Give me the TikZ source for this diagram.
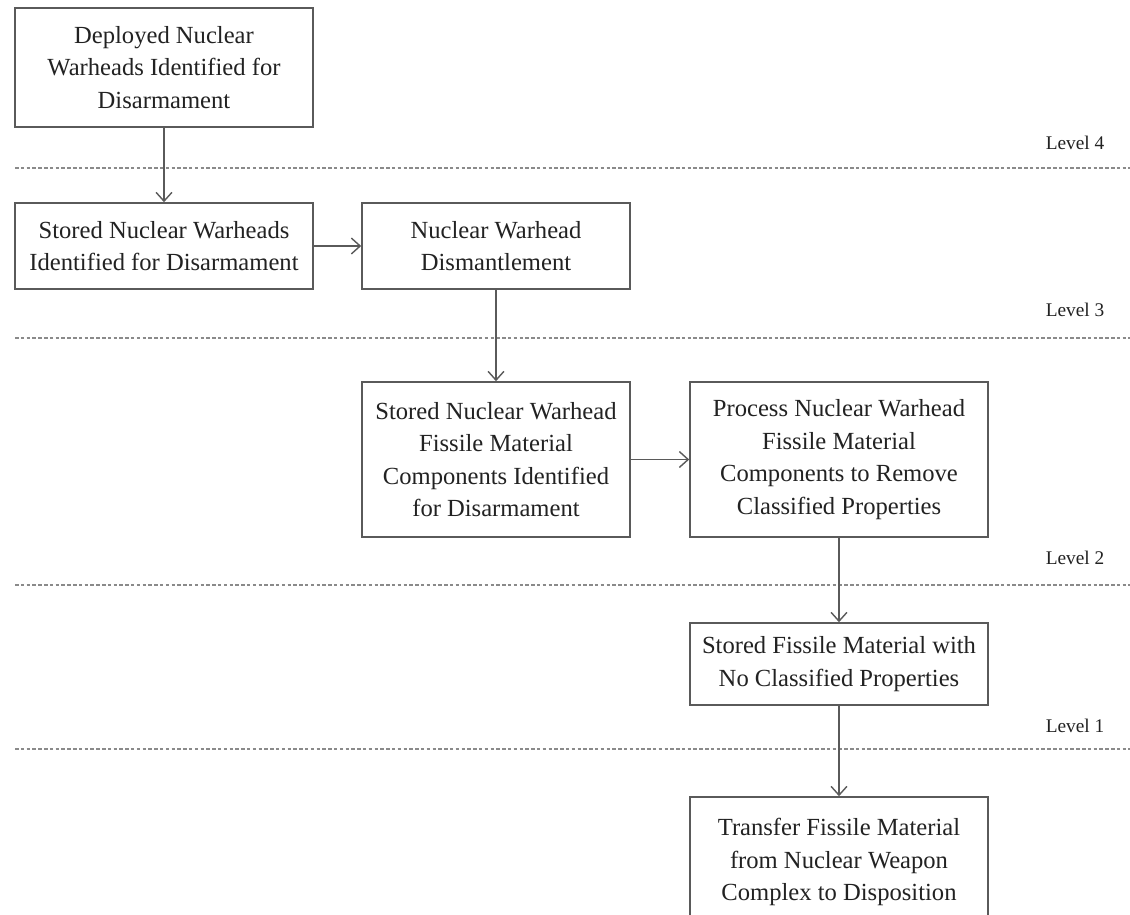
\documentclass[tikz,border=0pt]{standalone}
\usepackage{fontspec}
\setmainfont{Liberation Serif}
\usepackage{tikz}
\usetikzlibrary{arrows.meta,positioning,calc}
\definecolor{vline}{HTML}{5A5A5A}
\definecolor{vtext}{HTML}{222222}
\definecolor{vdot}{HTML}{8A8A8A}
\tikzset{
  box/.style={draw=vline,fill=white,line width=0.9pt,align=center,text=vtext,font=\fontsize{14}{18.5}\selectfont,inner sep=3pt},
  arr/.style={-{Straight Barb[length=5pt,width=9pt]},line width=0.8pt,draw=vline},
  lvl/.style={draw=vdot,line width=0.8pt,dash pattern=on 2pt off 1.3pt},
  lbl/.style={font=\fontsize{11}{13}\selectfont,text=vtext},
}
\begin{document}
\begin{tikzpicture}
\clip (0,0) rectangle (22.6,-18.3);
\fill[white] (0,0) rectangle (22.6,-18.3);
% level separators
\draw[lvl] (0.3,-3.36) -- (22.6,-3.36);
\draw[lvl] (0.3,-6.76) -- (22.6,-6.76);
\draw[lvl] (0.3,-11.70) -- (22.6,-11.70);
\draw[lvl] (0.3,-14.98) -- (22.6,-14.98);
\node[lbl] (l4) at (21.5,-2.86) {Level 4};
\node[lbl] (l3) at (21.5,-6.20) {Level 3};
\node[lbl] (l2) at (21.5,-11.16) {Level 2};
\node[lbl] (l1) at (21.5,-14.52) {Level 1};
% boxes
\node[box,minimum width=5.96cm,minimum height=2.38cm] (deployed) at (3.28,-1.35)
  {Deployed Nuclear\\Warheads Identified for\\Disarmament};
\node[box,minimum width=5.96cm,minimum height=1.72cm] (stored) at (3.28,-4.92)
  {Stored Nuclear Warheads\\Identified for Disarmament};
\node[box,minimum width=5.36cm,minimum height=1.72cm] (dismantle) at (9.92,-4.92)
  {Nuclear Warhead\\Dismantlement};
\node[box,minimum width=5.36cm,minimum height=3.10cm] (components) at (9.92,-9.19)
  {Stored Nuclear Warhead\\Fissile Material\\Components Identified\\for Disarmament};
\node[box,minimum width=5.96cm,minimum height=3.10cm] (process) at (16.78,-9.19)
  {Process Nuclear Warhead\\Fissile Material\\Components to Remove\\Classified Properties};
\node[box,minimum width=5.96cm,minimum height=1.64cm] (fissile) at (16.78,-13.28)
  {Stored Fissile Material with\\No Classified Properties};
% runs off the bottom edge
\node[box,minimum width=5.96cm,minimum height=2.6cm] (transfer) at (16.78,-17.24)
  {Transfer Fissile Material\\from Nuclear Weapon\\Complex to Disposition};
% flow
\draw[arr] (deployed) -- (stored);
\draw[arr] (stored) -- (dismantle);
\draw[arr] (dismantle) -- (components);
\draw[arr] (components) -- (process);
\draw[arr] (process) -- (fissile);
\draw[arr] (fissile) -- (transfer);
\end{tikzpicture}
\end{document}
